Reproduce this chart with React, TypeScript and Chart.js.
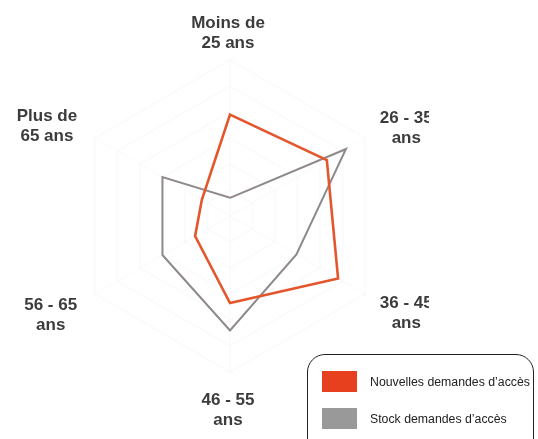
import React, { useEffect, useRef } from "react";
import { Chart, registerables } from "chart.js";

Chart.register(...registerables);

const categories: string[][] = [
  ["Moins de", "25 ans"],
  ["26 - 35", "ans"],
  ["36 - 45", "ans"],
  ["46 - 55", "ans"],
  ["56 - 65", "ans"],
  ["Plus de", "65 ans"],
];
const nouvelles: number[] = [39, 43, 48, 33.5, 15.5, 12.5];
const stock: number[] = [7, 51.5, 29.5, 44, 30, 30];
const seriesNames: string[] = ["Nouvelles demandes d\u2019acc\u00e8s", "Stock demandes d\u2019acc\u00e8s"];
const scaleMax = 60;
const scaleStep = 10;

const ORANGE = "#E4562C";
const GRAY = "#8F8989";
const LABEL_FONT = 'bold 17px "Liberation Sans", Arial, sans-serif';

const labelPlugin = {
  id: "customPointLabels",
  afterDraw(chart: any) {
    const s = chart.scales.r;
    const ctx = chart.ctx;
    ctx.save();
    ctx.font = LABEL_FONT;
    ctx.fillStyle = "#3c3c3c";
    ctx.textAlign = "center";
    ctx.textBaseline = "middle";
    const lh = 20;
    const n = categories.length;
    for (let i = 0; i < n; i++) {
      const lines = categories[i];
      const bw = Math.max(...lines.map((l) => ctx.measureText(l).width));
      const bh = lines.length * lh;
      let dist = 173;
      if (i === 0) dist = 166;
      else if (i === n / 2) dist = 171;
      else if (i > n / 2) dist = 176.5;
      const p = s.getPointPosition(i, dist);
      let cx: number;
      let top: number;
      if (i === 0) {
        cx = p.x - 2;
        top = p.y + 3 - bh;
      } else if (i === n / 2) {
        cx = p.x - 2;
        top = p.y + 3;
      } else {
        const cy = s.yCenter + (p.y - s.yCenter) * 1.07 + 5;
        top = cy - bh / 2;
        cx = p.x > s.xCenter ? p.x + bw / 2 : p.x - bw / 2;
      }
      lines.forEach((l, k) => ctx.fillText(l, cx, top + lh / 2 + k * lh));
    }
    ctx.restore();
  },
};

export default function App() {
  const ref = useRef<HTMLCanvasElement | null>(null);
  useEffect(() => {
    if (!ref.current) return;
    const chart = new Chart(ref.current, {
      type: "radar",
      data: {
        labels: categories,
        datasets: [
          {
            label: seriesNames[0],
            data: nouvelles,
            borderColor: ORANGE,
            backgroundColor: "transparent",
            borderWidth: 2.6,
            pointRadius: 0,
            fill: false,
          },
          {
            label: seriesNames[1],
            data: stock,
            borderColor: GRAY,
            backgroundColor: "transparent",
            borderWidth: 2,
            pointRadius: 0,
            fill: false,
          },
        ],
      },
      options: {
        responsive: false,
        animation: false,
        layout: { padding: { left: 61, right: 61, top: 46, bottom: 62 } },
        plugins: { legend: { display: false }, tooltip: { enabled: false } },
        elements: { line: { tension: 0 } },
        scales: {
          r: {
            min: 0,
            max: scaleMax,
            ticks: { display: false, stepSize: scaleStep },
            grid: { color: "rgba(200,212,222,0.09)", lineWidth: 2 },
            angleLines: { color: "rgba(200,212,222,0.07)", lineWidth: 2 },
            pointLabels: { display: false },
          },
        },
      },
      plugins: [labelPlugin],
    });
    return () => chart.destroy();
  }, []);

  const legendItem = (color: string, text: string, top: number) => (
    <div style={{ position: "absolute", left: 14, top, display: "flex", alignItems: "center" }}>
      <div style={{ width: 35, height: 21, background: color }} />
      <span
        style={{
          marginLeft: 13,
          font: '12.3px "Liberation Sans", Arial, sans-serif',
          color: "#222",
          whiteSpace: "nowrap",
        }}
      >
        {text}
      </span>
    </div>
  );

  return (
    <div style={{ position: "fixed", left: 0, top: 0, width: 538, height: 439, overflow: "hidden", background: "#fff" }}>
      <div style={{ position: "absolute", left: 13, top: 14, width: 416, height: 419, overflow: "hidden" }}>
        <canvas ref={ref} width={434} height={420} style={{ display: "block" }} />
      </div>
      <div
        style={{
          position: "absolute",
          left: 307,
          top: 354,
          width: 227,
          height: 110,
          border: "1.3px solid #222",
          borderRadius: 18,
          boxSizing: "border-box",
          background: "#fff",
        }}
      >
        {legendItem("#E6401F", seriesNames[0], 16)}
        {legendItem("#999999", seriesNames[1], 53)}
      </div>
    </div>
  );
}
